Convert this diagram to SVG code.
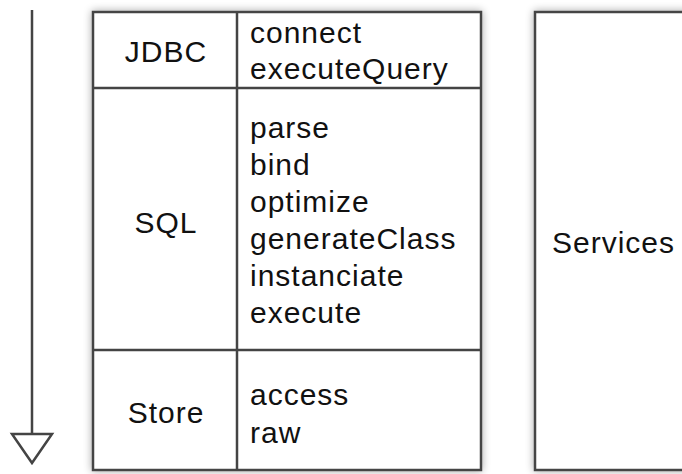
<svg xmlns="http://www.w3.org/2000/svg" width="682" height="474" viewBox="0 0 682 474">
<style>
.box{fill:#fff;stroke:#444;stroke-width:2.5}
.ln{stroke:#444;stroke-width:2.5;fill:none}
.t{font-family:"Liberation Sans",Arial,sans-serif;font-size:30px;fill:#111;letter-spacing:1px}
.c{text-anchor:middle}
</style>
<defs>
<filter id="sh" x="-10%" y="-10%" width="120%" height="120%">
<feGaussianBlur in="SourceAlpha" stdDeviation="4"/>
<feComponentTransfer><feFuncA type="linear" slope="0.35"/></feComponentTransfer>
<feMerge><feMergeNode/><feMergeNode in="SourceGraphic"/></feMerge>
</filter>
</defs>
<rect width="682" height="474" fill="#fff"/>
<g id="connectors">
<line class="ln" x1="32" y1="10" x2="32" y2="434"/>
<polygon class="ln" points="12,434 52,434 32,463"/>
</g>
<g id="table">
<rect class="box" x="93" y="12" width="388" height="458" filter="url(#sh)"/>
<line class="ln" x1="237" y1="12" x2="237" y2="470"/>
<line class="ln" x1="93" y1="88" x2="481" y2="88"/>
<line class="ln" x1="93" y1="350" x2="481" y2="350"/>
</g>
<g id="jdbc">
<text class="t c" x="166" y="62">JDBC</text>
<text class="t" x="250" y="43">connect</text>
<text class="t" x="250" y="79">executeQuery</text>
</g>
<g id="sql">
<text class="t c" x="166" y="233">SQL</text>
<text class="t" x="250" y="138">parse</text>
<text class="t" x="250" y="175">bind</text>
<text class="t" x="250" y="212">optimize</text>
<text class="t" x="250" y="249">generateClass</text>
<text class="t" x="250" y="286">instanciate</text>
<text class="t" x="250" y="323">execute</text>
</g>
<g id="store">
<text class="t c" x="166" y="423">Store</text>
<text class="t" x="250" y="405">access</text>
<text class="t" x="250" y="443">raw</text>
</g>
<g id="services">
<rect class="box" x="535" y="12" width="170" height="458" filter="url(#sh)"/>
<text class="t" x="552" y="253">Services</text>
</g>
</svg>
